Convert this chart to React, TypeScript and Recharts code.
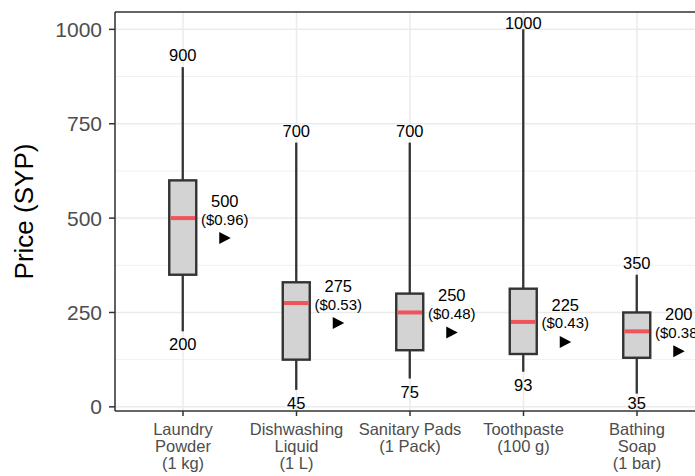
import React from 'react';
import { ComposedChart, Bar, XAxis, YAxis, CartesianGrid, ReferenceLine } from 'recharts';

const categories = ['Laundry Powder (1 kg)', 'Dishwashing Liquid (1 L)', 'Sanitary Pads (1 Pack)', 'Toothpaste (100 g)', 'Bathing Soap (1 bar)'];
const categoryLines = [
  ['Laundry', 'Powder', '(1 kg)'],
  ['Dishwashing', 'Liquid', '(1 L)'],
  ['Sanitary Pads', '(1 Pack)'],
  ['Toothpaste', '(100 g)'],
  ['Bathing', 'Soap', '(1 bar)'],
];
const minValues = [200, 45, 75, 93, 35];
const q1Values = [350, 125, 150, 140, 130];
const medianValues = [500, 275, 250, 225, 200];
const q3Values = [600, 330, 300, 313, 250];
const maxValues = [900, 700, 700, 1000, 350];
const usdLabels = ['($0.96)', '($0.53)', '($0.48)', '($0.43)', '($0.38)'];
const yTicks = [0, 250, 500, 750, 1000];
const yMinorTicks = [125, 375, 625, 875];
const Y_DOMAIN: [number, number] = [-11, 1046];

const data = categories.map((name, i) => ({
  name,
  lines: categoryLines[i],
  min: minValues[i],
  q1: q1Values[i],
  median: medianValues[i],
  q3: q3Values[i],
  max: maxValues[i],
  usd: usdLabels[i],
  range: [minValues[i], maxValues[i]],
}));

const FONT = '"Liberation Sans", Arial, Helvetica, sans-serif';

const BoxShape = (props: any) => {
  const { x, y, width, height, payload } = props;
  if (!payload) return null;
  const top = Math.min(y, y + height);
  const h = Math.abs(height);
  const { min, q1, median, q3, max, usd } = payload;
  const py = (v: number) => top + (h * (max - v)) / (max - min);
  const cx = x + width / 2;
  const plotTop = py(Y_DOMAIN[1]);
  const plotBottom = py(Y_DOMAIN[0]);
  const yMax = py(max);
  const yMin = py(min);
  const yQ1 = py(q1);
  const yQ3 = py(q3);
  const yMed = py(median);
  const maxLabelY = Math.max(yMax - 12, plotTop + 10.5);
  const minLabelY = Math.min(yMin + 13, plotBottom - 8);
  const lx = cx + 42;
  const ty = yMed + 20;
  return (
    <g>
      <line x1={cx} x2={cx} y1={yMax} y2={yQ3} stroke="#333333" strokeWidth={2.3} />
      <line x1={cx} x2={cx} y1={yQ1} y2={yMin} stroke="#333333" strokeWidth={2.3} />
      <rect x={x} y={yQ3} width={width} height={yQ1 - yQ3} fill="#d3d3d3" stroke="#333333" strokeWidth={2.4} />
      <line x1={x + 1.2} x2={x + width - 1.2} y1={yMed} y2={yMed} stroke="#f0545a" strokeWidth={4} />
      <text x={cx} y={maxLabelY} textAnchor="middle" dominantBaseline="central" fontSize={16.5} fill="#000" fontFamily={FONT}>{max}</text>
      <text x={cx} y={minLabelY} textAnchor="middle" dominantBaseline="central" fontSize={16.5} fill="#000" fontFamily={FONT}>{min}</text>
      <text x={lx} y={yMed - 17} textAnchor="middle" dominantBaseline="central" fontSize={16.5} fill="#000" fontFamily={FONT}>{median}</text>
      <text x={lx} y={yMed + 1} textAnchor="middle" dominantBaseline="central" fontSize={15} fill="#000" fontFamily={FONT}>{usd}</text>
      <path d={`M${lx - 5.5},${ty - 6} L${lx + 6},${ty} L${lx - 5.5},${ty + 6} Z`} fill="#000" />
    </g>
  );
};

const XTick = (props: any) => {
  const { x, y, index } = props;
  const lines = categoryLines[index] || [];
  return (
    <text x={x} y={y + 17} textAnchor="middle" fontSize={16.5} fill="#4d4d4d" fontFamily={FONT}>
      {lines.map((l, i) => (
        <tspan key={i} x={x} dy={i === 0 ? 0 : 17}>{l}</tspan>
      ))}
    </text>
  );
};

const YLabel = (props: any) => {
  const { viewBox } = props;
  const vx = viewBox?.x ?? 0;
  const vy = viewBox?.y ?? 0;
  const vh = viewBox?.height ?? 0;
  const cx = vx + 24;
  const cy = vy + vh / 2;
  return (
    <text x={cx} y={cy} transform={`rotate(-90, ${cx}, ${cy})`} textAnchor="middle" dominantBaseline="central" fontSize={26} fill="#000" fontFamily={FONT}>
      Price (SYP)
    </text>
  );
};

export default function App() {
  return (
    <div style={{ position: 'absolute', left: 0, top: 0, width: 695, height: 476, overflow: 'hidden', background: '#fff', fontFamily: FONT }}>
      <ComposedChart width={710} height={476} data={data} margin={{ top: 12, right: 5, bottom: 0, left: 0 }}>
        <CartesianGrid stroke="#f0f0f0" strokeWidth={1} vertical={false} horizontalValues={yMinorTicks} />
        <CartesianGrid stroke="#ebebeb" strokeWidth={1.5} horizontalValues={yTicks} />
        <ReferenceLine y={Y_DOMAIN[1]} stroke="#333333" strokeWidth={1.5} />
        <XAxis
          dataKey="name"
          type="category"
          interval={0}
          height={65}
          padding={{ left: 11.25, right: 11.25 }}
          tick={<XTick />}
          tickSize={5}
          tickLine={{ stroke: '#333333', strokeWidth: 1.5 }}
          axisLine={{ stroke: '#333333', strokeWidth: 1.5 }}
        />
        <YAxis
          type="number"
          domain={Y_DOMAIN}
          allowDataOverflow
          ticks={yTicks}
          width={115}
          tickSize={6}
          tickMargin={7}
          tick={{ fontSize: 21, fill: '#4d4d4d', fontFamily: FONT }}
          tickLine={{ stroke: '#333333', strokeWidth: 1.5 }}
          axisLine={{ stroke: '#333333', strokeWidth: 1.5 }}
          label={<YLabel />}
        />
        <Bar dataKey="range" barSize={27} shape={<BoxShape />} isAnimationActive={false} />
      </ComposedChart>
    </div>
  );
}
